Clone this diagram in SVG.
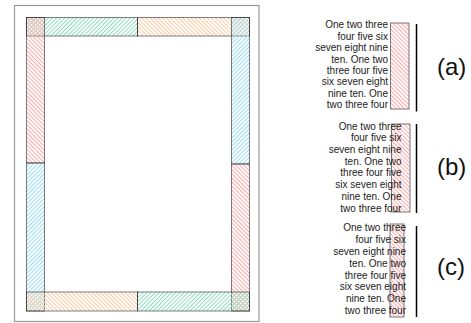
<svg xmlns="http://www.w3.org/2000/svg" width="471" height="323" viewBox="0 0 471 323">
<style>
.t{font-family:"Liberation Sans",Arial,sans-serif;font-size:10px;fill:#222;text-anchor:end}
.lbl{font-family:"Liberation Sans",Arial,sans-serif;font-size:24px;fill:#111}
.bar{stroke:#000;stroke-opacity:0.5;stroke-width:1}
</style>
<defs>
<pattern id="hg" patternUnits="userSpaceOnUse" width="2.9" height="4" patternTransform="rotate(45)"><rect x="0" y="0" width="1" height="4" fill="#8ddcbc"/></pattern>
<pattern id="hb" patternUnits="userSpaceOnUse" width="2.9" height="4" patternTransform="rotate(45)"><rect x="0" y="0" width="1" height="4" fill="#96dcf4"/></pattern>
<pattern id="ho" patternUnits="userSpaceOnUse" width="2.9" height="4" patternTransform="rotate(-45)"><rect x="0" y="0" width="1" height="4" fill="#fcc9a0"/></pattern>
<pattern id="hr" patternUnits="userSpaceOnUse" width="2.9" height="4" patternTransform="rotate(-45)"><rect x="0" y="0" width="1" height="4" fill="#ffa8a8"/></pattern>
</defs>
<rect x="14.5" y="5.5" width="244.5" height="316" fill="none" stroke="#999" stroke-width="1.2"/>
<g id="frame-bars">
<rect id="top-green" class="bar" x="26.5" y="17.5" width="111" height="18.5" fill="url(#hg)"/>
<rect id="top-orange" class="bar" x="137.5" y="17.5" width="112" height="18.5" fill="url(#ho)"/>
<rect id="left-red" class="bar" x="26.5" y="17.5" width="18" height="145.5" fill="url(#hr)"/>
<rect id="left-blue" class="bar" x="26.5" y="163" width="18" height="148" fill="url(#hb)"/>
<rect id="right-blue" class="bar" x="231.5" y="17.5" width="18" height="146.5" fill="url(#hb)"/>
<rect id="right-red" class="bar" x="231.5" y="164" width="18" height="147" fill="url(#hr)"/>
<rect id="bottom-orange" class="bar" x="26.5" y="292" width="111" height="19" fill="url(#ho)"/>
<rect id="bottom-green" class="bar" x="137.5" y="292" width="112" height="19" fill="url(#hg)"/>
</g>
<g id="panel-a">
<rect x="390.5" y="23" width="18.5" height="86" fill="url(#hr)" stroke="#777" stroke-width="1"/>
<line x1="416.5" y1="24" x2="416.5" y2="111.5" stroke="#000" stroke-width="1.5"/>
<text class="t"><tspan x="388" y="28.4">One two three</tspan><tspan x="388" y="39.8">four five six</tspan><tspan x="388" y="51.2">seven eight nine</tspan><tspan x="388" y="62.6">ten. One two</tspan><tspan x="388" y="74">three four five</tspan><tspan x="388" y="85.4">six seven eight</tspan><tspan x="388" y="96.8">nine ten. One</tspan><tspan x="388" y="108.2">two three four</tspan></text>
<text class="lbl" x="437" y="75">(a)</text>
</g>
<g id="panel-b">
<rect x="391.5" y="124" width="18.5" height="88" fill="url(#hr)" stroke="#777" stroke-width="1"/>
<line x1="416.5" y1="124" x2="416.5" y2="213" stroke="#000" stroke-width="1.5"/>
<text class="t"><tspan x="401.5" y="129.6">One two three</tspan><tspan x="401.5" y="141.3">four five six</tspan><tspan x="401.5" y="153">seven eight nine</tspan><tspan x="401.5" y="164.7">ten. One two</tspan><tspan x="401.5" y="176.4">three four five</tspan><tspan x="401.5" y="188.1">six seven eight</tspan><tspan x="401.5" y="199.8">nine ten. One</tspan><tspan x="401.5" y="211.5">two three four</tspan></text>
<text class="lbl" x="437" y="175">(b)</text>
</g>
<g id="panel-c">
<rect x="390" y="224" width="14" height="93" fill="url(#hr)" stroke="#777" stroke-width="1"/>
<line x1="416.5" y1="226" x2="416.5" y2="317" stroke="#000" stroke-width="1.5"/>
<text class="t"><tspan x="406" y="231.3">One two three</tspan><tspan x="406" y="243.1">four five six</tspan><tspan x="406" y="254.9">seven eight nine</tspan><tspan x="406" y="266.7">ten. One two</tspan><tspan x="406" y="278.5">three four five</tspan><tspan x="406" y="290.3">six seven eight</tspan><tspan x="406" y="302.1">nine ten. One</tspan><tspan x="406" y="313.9">two three four</tspan></text>
<text class="lbl" x="437" y="275">(c)</text>
</g>
</svg>
